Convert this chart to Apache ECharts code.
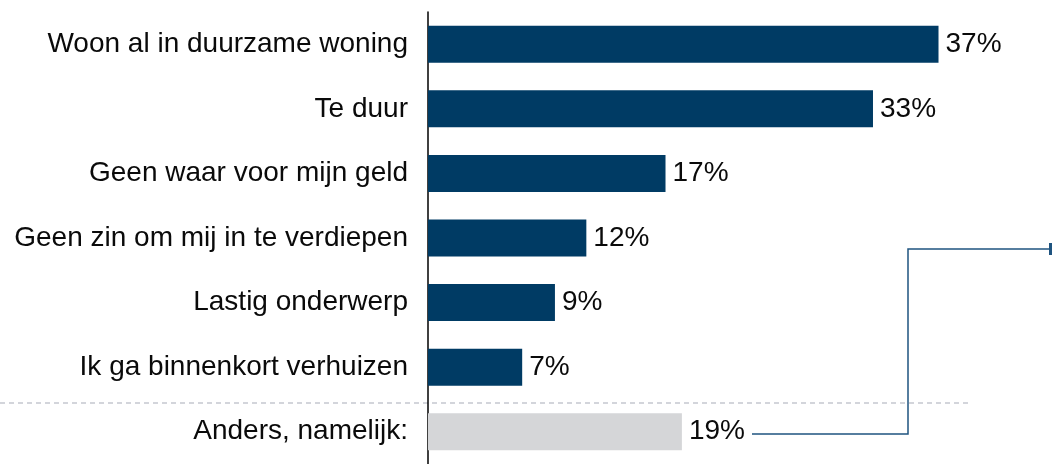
<!DOCTYPE html>
<html>
<head>
<meta charset="utf-8">
<script src="https://cdn.jsdelivr.net/npm/echarts@6/dist/echarts.min.js"></script>
<style>
  html, body { margin: 0; padding: 0; background: #fff; }
  #main { width: 1054px; height: 464px; }
</style>
</head>
<body>
<div id="main"></div>
<script>
  // reasons (top to bottom) and their share in %
  var categories = [
    'Woon al in duurzame woning',
    'Te duur',
    'Geen waar voor mijn geld',
    'Geen zin om mij in te verdiepen',
    'Lastig onderwerp',
    'Ik ga binnenkort verhuizen',
    'Anders, namelijk:'
  ];
  var values = [37.4, 32.6, 17.4, 11.6, 9.3, 6.9, 18.6];
  var otherIndex = 6; // "Anders" is shown in grey

  var myChart = echarts.init(document.getElementById('main'));

  var barData = values.map(function (v, i) {
    return {
      value: v,
      itemStyle: { color: i === otherIndex ? '#d5d6d8' : '#003b64' }
    };
  });

  var options = {
    backgroundColor: '#ffffff',
    animation: false,
    grid: { left: 428, width: 546, top: 12, bottom: -3 },
    xAxis: {
      type: 'value',
      min: 0,
      max: 40,
      show: false
    },
    yAxis: {
      type: 'category',
      data: categories,
      inverse: true,
      axisLine: { show: true, lineStyle: { color: '#000', width: 1.5 } },
      axisTick: { show: false },
      axisLabel: {
        margin: 20,
        fontSize: 28,
        color: '#0a0a0a',
        fontFamily: 'Liberation Sans, Arial, sans-serif'
      }
    },
    series: [{
      type: 'bar',
      data: barData,
      barWidth: 37,
      label: {
        show: true,
        position: 'right',
        distance: 7,
        fontSize: 28,
        color: '#0a0a0a',
        fontFamily: 'Liberation Sans, Arial, sans-serif',
        formatter: function (p) { return Math.round(p.value) + '%'; }
      }
    }],
    graphic: [
      {
        type: 'line',
        shape: { x1: 0, y1: 403, x2: 970, y2: 403 },
        style: { stroke: '#c5c7cf', lineWidth: 1.5, lineDash: [5, 4] },
        z: 0
      },
      {
        type: 'polyline',
        shape: { points: [[752, 434], [908, 434], [908, 249], [1050, 249]] },
        style: { stroke: '#1f5480', lineWidth: 1.5, fill: null }
      },
      {
        type: 'rect',
        shape: { x: 1049, y: 243, width: 3, height: 12 },
        style: { fill: '#1f5480' }
      }
    ]
  };

  myChart.setOption(options);
</script>
</body>
</html>
